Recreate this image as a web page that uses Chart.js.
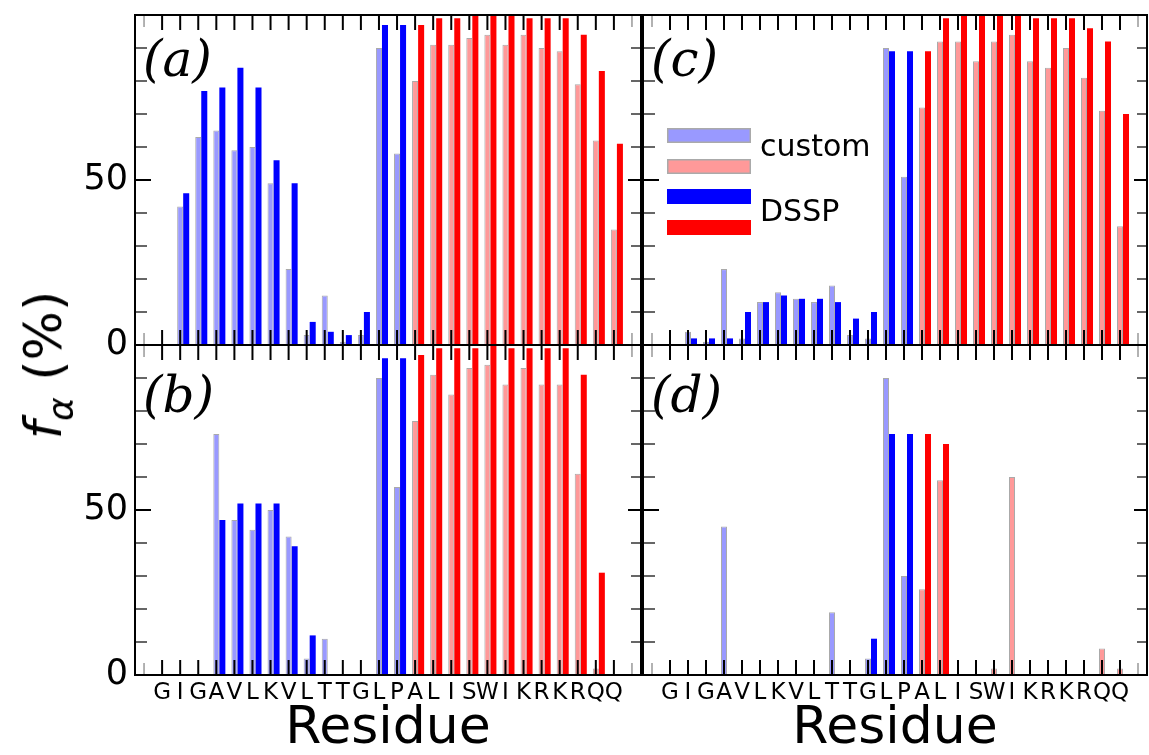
<!DOCTYPE html>
<html>
<head>
<meta charset="utf-8">
<script src="https://cdn.jsdelivr.net/npm/chart.js@4.4.1/dist/chart.umd.min.js"></script>
<style>
  html, body { margin: 0; padding: 0; background: #fff; }
  #wrap { position: relative; width: 1149px; height: 755px; overflow: hidden; background: #fff; }
  #wrap canvas { position: absolute; }
  #yTitleAnchor { position: absolute; left: 43px; top: 365px; width: 0; height: 0; }
  #yTitle {
    position: absolute; left: 0; top: 0; white-space: nowrap;
    font-family: 'DejaVu Sans', sans-serif; font-size: 52px; line-height: 52px; color: #000;
    transform: translate(-50%, -50%) rotate(-90deg);
  }
  #yTitle i { font-style: italic; }
  #yTitle sub { font-size: 36px; font-style: italic; line-height: 0; vertical-align: -0.32em; }
</style>
</head>
<body>
<div id="wrap">
  <canvas id="cA" width="645" height="365" style="left:0px;top:0px;width:645px;height:365px"></canvas>
  <canvas id="cB" width="645" height="425" style="left:0px;top:330px;width:645px;height:425px"></canvas>
  <canvas id="cC" width="519" height="365" style="left:630px;top:0px;width:519px;height:365px"></canvas>
  <canvas id="cD" width="519" height="425" style="left:630px;top:330px;width:519px;height:425px"></canvas>
  <div id="yTitleAnchor"><div id="yTitle"><i>f</i><sub>α</sub> (%)</div></div>
</div>
<script>
// ---------------- data ----------------
const residues = ['G','I','G','A','V','L','K','V','L','T','T','G','L','P','A','L','I','S','W','I','K','R','K','R','Q','Q'];
const helixFrom = 15;              // residues from this (1-based) index on are drawn in red

const customA = [0,42,63,65,59,60,49,23,3,15,1,3,90,58,80,91,91,93,94,91,94,90,89,79,62,35];
const dsspA   = [0,46,77,78,84,78,56,49,7,4,3,10,97,97,97,99,99,100,100,100,99,99,99,94,83,61];

const customB = [0,0,0,73,47,44,50,42,5,11,0,0,90,57,77,91,85,93,94,88,93,88,88,61,2,0];
const dsspB   = [0,0,0,47,52,52,52,39,12,0,0,0,96,96,97,99,99,99,100,99,99,99,99,91,31,0];

const customC = [0,4,1,23,2,13,16,14,13,18,3,2,90,51,72,92,92,86,92,94,86,84,90,81,71,36];
const dsspC   = [0,2,2,2,10,13,15,14,14,13,8,10,89,89,89,99,100,100,100,100,99,99,99,96,92,70];

const customD = [0,0,0,45,0,0,0,0,0,19,0,5,90,30,26,59,0,0,2,60,0,0,0,0,8,2];
const dsspD   = [0,0,0,0,0,0,0,0,0,0,0,11,73,73,73,70,0,0,0,0,0,0,0,0,0,0];

const yLabelTicks = [0, 50];
const yMajorTicks = [0, 50, 100];
const yMinorTicks = [10, 20, 30, 40, 60, 70, 80, 90];
const xEdgeTicks  = [0, 27];
const Y_MIN = 0, Y_MAX = 100;
const X_MIN = -0.5, X_MAX = 27.5;

// ---------------- styles ----------------
const LIGHT_BLUE = '#9999ff', LIGHT_RED = '#ff9999', BLUE = '#0000ff', RED = '#ff0000', EDGE = '#aaaaaa';
const DSSP_SHIFT = 1 / 3;
const FONT = "'DejaVu Sans', sans-serif";

Chart.defaults.font.family = FONT;
Chart.defaults.color = '#000';

function colorFor(light) {
  return (ctx) => (ctx.dataIndex + 1 < helixFrom)
    ? (light ? LIGHT_BLUE : BLUE)
    : (light ? LIGHT_RED : RED);
}

function line(ctx, x1, y1, x2, y2) {
  ctx.beginPath(); ctx.moveTo(x1, y1); ctx.lineTo(x2, y2); ctx.stroke();
}

const decor = {
  id: 'decor',
  afterDatasetsDraw(chart, args, o) {
    const { ctx, chartArea: a, scales: { x, y } } = chart;
    ctx.save();
    ctx.lineCap = 'butt';
    ctx.strokeStyle = '#000'; ctx.lineWidth = 2;
    residues.forEach((_, i) => {
      const px = x.getPixelForValue(i + 1);
      line(ctx, px, a.bottom, px, a.bottom - 15);
      line(ctx, px, a.top, px, a.top + 15);
    });
    ctx.strokeStyle = '#999'; ctx.lineWidth = 1.5;
    xEdgeTicks.forEach(v => {
      const px = x.getPixelForValue(v);
      line(ctx, px, a.bottom, px, a.bottom - 12);
      line(ctx, px, a.top, px, a.top + 12);
    });
    ctx.strokeStyle = '#000'; ctx.lineWidth = 2;
    yMajorTicks.forEach(v => {
      const py = y.getPixelForValue(v);
      line(ctx, a.left, py, a.left + 16, py);
      line(ctx, a.right, py, a.right - 13, py);
    });
    ctx.strokeStyle = '#333'; ctx.lineWidth = 1.5;
    yMinorTicks.forEach(v => {
      const py = y.getPixelForValue(v);
      line(ctx, a.left, py, a.left + 12, py);
      line(ctx, a.right, py, a.right - 10, py);
    });
    ctx.strokeStyle = '#000'; ctx.lineWidth = 2;
    ctx.strokeRect(a.left, a.top, a.right - a.left, a.bottom - a.top);
    ctx.fillStyle = '#000';
    ctx.font = "italic 50px 'DejaVu Serif', serif";
    ctx.textBaseline = 'alphabetic';
    ctx.textAlign = 'left';
    ctx.fillText(o.label, a.left + 8, a.top + o.labelDy);
    if (o.legend) {
      const bx = a.left + 24, bw = 84, bh = 15;
      const rows = [
        { dy: 113, fill: LIGHT_BLUE, edge: true },
        { dy: 144, fill: LIGHT_RED, edge: true },
        { dy: 174, fill: BLUE, edge: false },
        { dy: 205, fill: RED, edge: false },
      ];
      rows.forEach(r => {
        ctx.fillStyle = r.fill;
        ctx.fillRect(bx, a.top + r.dy, bw, bh);
        if (r.edge) {
          ctx.strokeStyle = EDGE; ctx.lineWidth = 1.5;
          ctx.strokeRect(bx + 0.75, a.top + r.dy + 0.75, bw - 1.5, bh - 1.5);
        }
      });
      ctx.fillStyle = '#000';
      ctx.font = "30px " + FONT;
      ctx.fillText('custom', a.left + 117, a.top + 141);
      ctx.fillText('DSSP', a.left + 117, a.top + 206);
    }
    ctx.restore();
  }
};

function makePanel(id, custom, dssp, cfg) {
  const el = document.getElementById(id);
  return new Chart(el, {
    type: 'bar',
    data: {
      datasets: [
        {
          label: 'custom',
          data: custom.map((v, i) => ({ x: i + 1, y: v })),
          backgroundColor: colorFor(true),
          borderColor: EDGE,
          borderWidth: 1,
        },
        {
          label: 'DSSP',
          data: dssp.map((v, i) => ({ x: i + 1 + DSSP_SHIFT, y: v })),
          backgroundColor: colorFor(false),
          borderWidth: 0,
        }
      ]
    },
    options: {
      responsive: false,
      animation: false,
      devicePixelRatio: 1,
      grouped: false,
      barPercentage: 1,
      categoryPercentage: 1,
      inflateAmount: 0,
      layout: { padding: cfg.padding },
      plugins: {
        legend: { display: false },
        tooltip: { enabled: false },
        decor: { label: cfg.label, labelDy: cfg.labelDy, legend: !!cfg.legend }
      },
      scales: {
        x: {
          type: 'linear',
          offset: false,
          min: X_MIN, max: X_MAX,
          display: cfg.showX,
          grid: { display: false, drawTicks: false, offset: false },
          border: { display: false },
          afterBuildTicks: (s) => { s.ticks = residues.map((_, i) => ({ value: i + 1 })); },
          afterFit: (s) => { s.height = cfg.showX ? 80 : 0; s.paddingLeft = 0; s.paddingRight = 0; },
          ticks: {
            autoSkip: false, maxRotation: 0, minRotation: 0,
            padding: 4,
            font: { size: 23, family: FONT },
            color: '#000',
            callback: (v) => residues[Math.round(v) - 1] || ''
          },
          title: {
            display: cfg.showX, text: 'Residue',
            font: { size: 52, family: FONT, lineHeight: 1 },
            padding: { top: 0, bottom: 0 },
            color: '#000'
          }
        },
        y: {
          min: Y_MIN, max: Y_MAX,
          display: cfg.showY,
          grid: { display: false, drawTicks: false },
          border: { display: false },
          afterBuildTicks: (s) => { s.ticks = yLabelTicks.map(v => ({ value: v })); },
          afterFit: (s) => { s.width = cfg.showY ? 135 : 0; s.paddingTop = 0; s.paddingBottom = 0; },
          ticks: {
            padding: 7,
            font: { size: 35, family: FONT },
            color: '#000'
          }
        }
      }
    },
    plugins: [decor]
  });
}

makePanel('cA', customA, dsspA, { label: '(a)', labelDy: 61, showX: false, showY: true,
  padding: { top: 15, right: 4, bottom: 20, left: 0 } });
makePanel('cB', customB, dsspB, { label: '(b)', labelDy: 67, showX: true, showY: true,
  padding: { top: 15, right: 4, bottom: 0, left: 0 } });
makePanel('cC', customC, dsspC, { label: '(c)', labelDy: 61, showX: false, showY: false, legend: true,
  padding: { top: 15, right: 2, bottom: 20, left: 13 } });
makePanel('cD', customD, dsspD, { label: '(d)', labelDy: 67, showX: true, showY: false,
  padding: { top: 15, right: 2, bottom: 0, left: 13 } });
</script>
</body>
</html>
